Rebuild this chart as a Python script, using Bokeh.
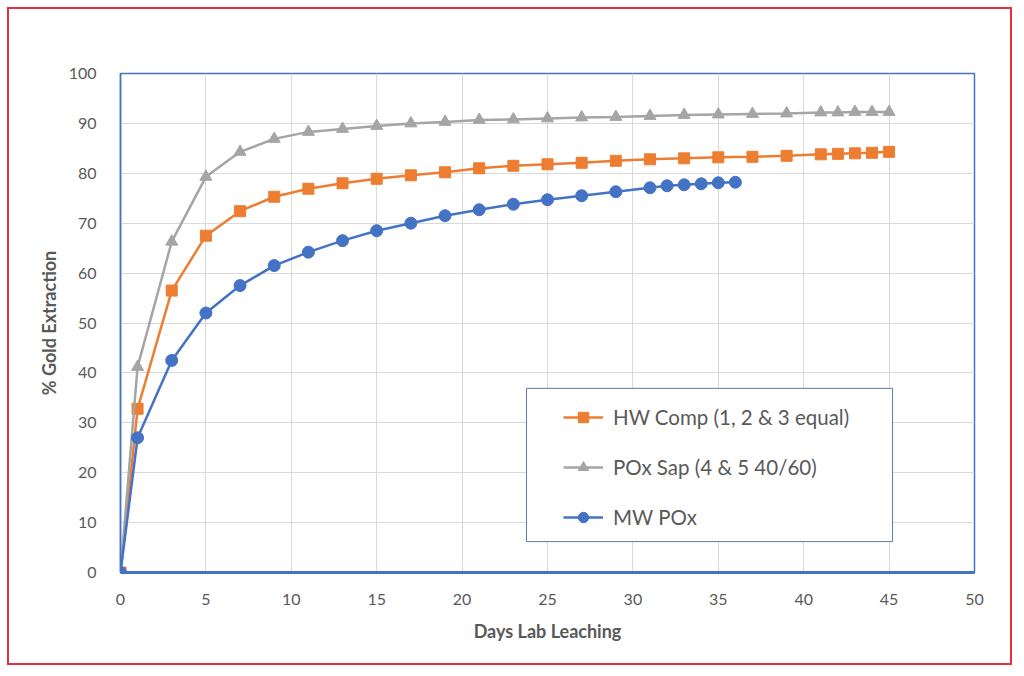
from bokeh.plotting import figure
from bokeh.models import Legend, LegendItem, BoxAnnotation, FixedTicker, Range1d
from bokeh.embed import file_html
from bokeh.resources import INLINE

# ---- data ----
days_hw = [0, 1, 3, 5, 7, 9, 11, 13, 15, 17, 19, 21, 23, 25, 27, 29, 31, 33, 35, 37, 39, 41, 42, 43, 44, 45]
hw_comp = [0, 32.8, 56.5, 67.5, 72.4, 75.3, 76.9, 78.0, 78.9, 79.6, 80.2, 81.0, 81.5, 81.8, 82.1, 82.5,
           82.8, 83.0, 83.2, 83.3, 83.5, 83.8, 83.9, 84.0, 84.1, 84.3]

days_pox = [0, 1, 3, 5, 7, 9, 11, 13, 15, 17, 19, 21, 23, 25, 27, 29, 31, 33, 35, 37, 39, 41, 42, 43, 44, 45]
pox_sap = [0, 41.2, 66.3, 79.3, 84.3, 86.9, 88.3, 88.9, 89.5, 90.0, 90.3, 90.7, 90.8, 91.0, 91.2, 91.3,
           91.5, 91.7, 91.8, 91.9, 92.0, 92.2, 92.2, 92.3, 92.3, 92.3]

days_mw = [0, 1, 3, 5, 7, 9, 11, 13, 15, 17, 19, 21, 23, 25, 27, 29, 31, 32, 33, 34, 35, 36]
mw_pox = [0, 27.0, 42.5, 52.0, 57.5, 61.5, 64.2, 66.5, 68.5, 70.0, 71.5, 72.7, 73.8, 74.7, 75.5, 76.3,
          77.1, 77.5, 77.7, 77.9, 78.1, 78.2]

series_labels = ["HW Comp (1, 2 & 3 equal)", "POx Sap (4 & 5 40/60)", "MW POx"]
x_ticks = [0, 5, 10, 15, 20, 25, 30, 35, 40, 45, 50]
y_ticks = [0, 10, 20, 30, 40, 50, 60, 70, 80, 90, 100]
x_title = "Days Lab Leaching"
y_title = "% Gold Extraction"

ORANGE = "#ED7D31"
GRAY = "#A5A5A5"
BLUE = "#4472C4"
TEXT = "#595959"
FONT = "Lato"

p = figure(width=1005, height=658, output_backend="svg", toolbar_location=None,
           x_range=Range1d(0, 50), y_range=Range1d(0, 100),
           min_border_left=111, min_border_right=40, min_border_top=64, min_border_bottom=95)
p.styles = {"border": "2px solid #E4323C", "margin-left": "7px", "margin-top": "7px"}

p.outline_line_color = BLUE
p.outline_line_width = 1.5
p.background_fill_color = "white"
p.border_fill_color = "white"

p.xgrid.grid_line_color = "#D9D9D9"
p.ygrid.grid_line_color = "#D9D9D9"
p.xaxis.ticker = FixedTicker(ticks=x_ticks)
p.yaxis.ticker = FixedTicker(ticks=y_ticks)
p.xgrid.ticker = FixedTicker(ticks=x_ticks)
p.ygrid.ticker = FixedTicker(ticks=y_ticks)

for ax in (p.xaxis[0], p.yaxis[0]):
    ax.major_tick_line_color = None
    ax.minor_tick_line_color = None
    ax.major_label_text_font = FONT
    ax.major_label_text_font_size = "16px"
    ax.major_label_text_color = TEXT
    ax.axis_label_text_font = FONT
    ax.axis_label_text_font_size = "18px"
    ax.axis_label_text_font_style = "bold"
    ax.axis_label_text_color = TEXT

p.xaxis.axis_line_color = BLUE
p.xaxis.axis_line_width = 3
p.yaxis.axis_line_color = BLUE
p.yaxis.axis_line_width = 1.5
p.xaxis.major_label_standoff = 15
p.yaxis.major_label_standoff = 18
p.xaxis.axis_label = x_title
p.yaxis.axis_label = y_title
p.xaxis.axis_label_standoff = 12
p.yaxis.axis_label_standoff = 6

# legend box background
box = BoxAnnotation(left=23.77, right=45.2, bottom=6.2, top=36.9,
                    fill_color="white", fill_alpha=1.0,
                    line_color="#5A7BB5", line_width=1, line_alpha=1.0)
p.add_layout(box)

l_hw = p.line(days_hw, hw_comp, line_color=ORANGE, line_width=2.5)
s_hw = p.scatter(days_hw, hw_comp, marker="square", size=11, fill_color=ORANGE, line_color=ORANGE)
l_px = p.line(days_pox, pox_sap, line_color=GRAY, line_width=2.5)
s_px = p.scatter(days_pox, pox_sap, marker="triangle", size=12, fill_color=GRAY, line_color=GRAY)
l_mw = p.line(days_mw, mw_pox, line_color=BLUE, line_width=2.5)
s_mw = p.scatter(days_mw, mw_pox, marker="circle", size=12, fill_color=BLUE, line_color=BLUE)

legend = Legend(items=[
    LegendItem(label=series_labels[0], renderers=[l_hw, s_hw]),
    LegendItem(label=series_labels[1], renderers=[l_px, s_px]),
    LegendItem(label=series_labels[2], renderers=[l_mw, s_mw]),
], location=(443, 42), padding=0, margin=0, spacing=24,
    glyph_width=40, glyph_height=26, label_height=26, label_standoff=10,
    background_fill_alpha=0, border_line_alpha=0,
    label_text_font=FONT, label_text_font_size="20.5px", label_text_color=TEXT)
p.add_layout(legend)

open("out.html", "w").write(file_html(p, INLINE))
